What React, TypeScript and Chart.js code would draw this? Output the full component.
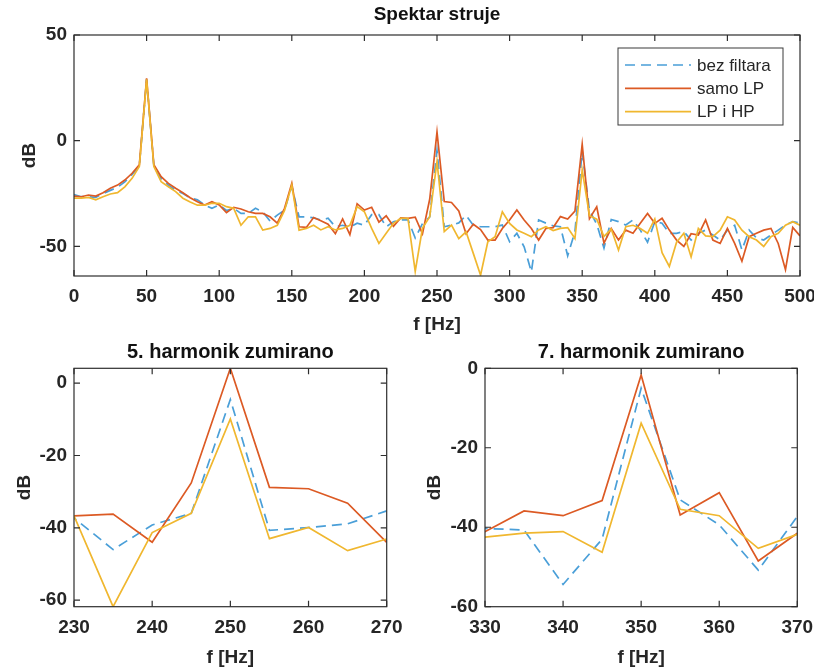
import React, { useEffect, useRef } from 'react';
import { Chart, registerables } from 'chart.js';

Chart.register(...registerables);

// ---------------- DATA ----------------
const FREQ = [
  0, 5, 10, 15, 20, 25, 30, 35, 40, 45,
  50, 55, 60, 65, 70, 75, 80, 85, 90, 95,
  100, 105, 110, 115, 120, 125, 130, 135, 140, 145,
  150, 155, 160, 165, 170, 175, 180, 185, 190, 195,
  200, 205, 210, 215, 220, 225, 230, 235, 240, 245,
  250, 255, 260, 265, 270, 275, 280, 285, 290, 295,
  300, 305, 310, 315, 320, 325, 330, 335, 340, 345,
  350, 355, 360, 365, 370, 375, 380, 385, 390, 395,
  400, 405, 410, 415, 420, 425, 430, 435, 440, 445,
  450, 455, 460, 465, 470, 475, 480, 485, 490, 495,
  500,
];

const BEZ_FILTARA = [
  -25.5, -26.5, -26.5, -26.8, -25, -23.5, -22, -19.5, -16, -12,
  29, -12, -18, -21, -23.5, -25, -27, -28, -30.4, -32,
  -30.4, -33, -32, -34.4, -34.4, -32, -33.6, -38, -35.2, -32.8,
  -21.5, -36, -36, -36.5, -37.5, -36.7, -40.7, -40, -41, -39,
  -40, -35, -35, -40.7, -38.3, -37.5, -37.3, -46, -39.2, -36,
  -4.5, -40.7, -39.9, -38.9, -35.3, -40, -40.7, -40.7, -40.7, -39.9,
  -47.8, -43.8, -50.2, -62, -37.5, -39, -40.3, -40.7, -54.4, -43,
  -5, -33.1, -39.4, -50.8, -37.3, -38.3, -39.9, -37.5, -42.3, -48,
  -38.3, -39, -43.8, -43.8, -43, -47, -43.8, -42.3, -44.6, -47,
  -42.3, -40, -51.7, -42.3, -46, -47, -44.6, -42.3, -40, -38.3,
  -39,
];

const SAMO_LP = [
  -26.2, -26.5, -25.7, -26.2, -24.6, -22.5, -21, -18.6, -15.4, -11.4,
  29.5, -11.4, -17, -20.2, -22.5, -24.6, -27, -28.9, -30.4, -28.9,
  -30.4, -34, -31.5, -32.3, -33.6, -34.4, -34.4, -36, -39, -32,
  -20.2, -40.7, -41, -36.3, -37.9, -39.5, -44, -37, -44.4, -29.8,
  -32.8, -31.5, -38.5, -35.5, -40.5, -36.5, -36.7, -36.2, -44, -27.6,
  4.1, -28.8, -29.2, -33.2, -44, -39.5, -42, -47, -47, -41.5,
  -37.5, -32.8, -37.5, -41.5, -47, -41.5, -41.1, -35.9, -37.1, -33.3,
  -1.7, -36.9, -31.3, -48.5, -41.5, -47, -42.3, -43.8, -39.1, -34.4,
  -39.1, -36.7, -42.3, -47, -50, -44, -44.6, -37.5, -47, -48.6,
  -41.5, -48.6, -57, -45.4, -43.8, -42.3, -41.5, -48.6, -61, -41,
  -45,
];

const LP_I_HP = [
  -27.2, -27.2, -26.8, -28, -26.5, -25.2, -24.6, -21.8, -17.8, -12.2,
  29, -12.2, -19.4, -21.8, -24.1, -27.2, -29, -30.5, -30.5, -29.6,
  -29.6, -31.2, -32, -40, -36, -36, -42.3, -41.5, -40, -33,
  -21, -42.3, -41.5, -40, -42.2, -40.7, -42.2, -41.5, -40, -31.2,
  -33.6, -41.5, -48.6, -43.8, -39.1, -36.7, -36.7, -61.8, -41.3, -36,
  -9.9, -43, -39.9, -46.3, -43.1, -53.3, -63.6, -47.8, -45.4, -33.6,
  -39.1, -42.2, -43.8, -45.4, -42.2, -40.7, -42.5, -41.5, -41.1, -46.3,
  -13.8, -35.5, -37.1, -45.3, -41.8, -51.7, -40.7, -40, -41.5, -43.8,
  -37, -53, -59.5, -48, -43.8, -55, -41.5, -45, -45.4, -42.3,
  -36, -37.5, -42.3, -45.4, -47, -50, -45.4, -43.8, -40, -38.3,
  -40,
];

const SERIES_LABELS = ['bez filtara', 'samo LP', 'LP i HP'];

const TITLES = ['Spektar struje', '5. harmonik zumirano', '7. harmonik zumirano'];
const X_LABEL = 'f [Hz]';
const Y_LABEL = 'dB';

const TOP_X_TICKS = [0, 50, 100, 150, 200, 250, 300, 350, 400, 450, 500];
const TOP_Y_TICKS = [-50, 0, 50];
const H5_X_TICKS = [230, 240, 250, 260, 270];
const H5_Y_TICKS = [-60, -40, -20, 0];
const H7_X_TICKS = [330, 340, 350, 360, 370];
const H7_Y_TICKS = [-60, -40, -20, 0];

const TOP_X_RANGE = [0, 500];
const TOP_Y_RANGE = [-64, 50];
const H5_X_RANGE = [230, 270];
const H5_Y_RANGE = [-61.8, 4.1];
const H7_X_RANGE = [330, 370];
const H7_Y_RANGE = [-60, 0];

// ---------------- STYLE ----------------
const FONT_FAMILY = '"Liberation Sans", Arial, Helvetica, sans-serif';
const COLORS = {
  bez: '#4a9fd8',
  lp: '#dc5a24',
  lphp: '#f0b72f',
  axis: '#2e2e2e',
  text: '#262626',
};

type PanelSpec = {
  id: string;
  left: number;
  top: number;
  width: number;
  height: number;
  title: string;
  titleSize: number;
  titlePadTop: number;
  titlePadBottom: number;
  yAxisWidth: number;
  xAxisHeight: number;
  padRight: number;
  xTitlePadBottom: number;
  yTitlePadTop: number;
  xTickPad: number;
  yTickPad: number;
  xRange: number[];
  yRange: number[];
  xTicks: number[];
  yTicks: number[];
  legend: boolean;
};

const PANELS: PanelSpec[] = [
  {
    id: 'top', left: 0, top: 0, width: 814, height: 340,
    title: TITLES[0], titleSize: 19, titlePadTop: 3, titlePadBottom: 9.2,
    yAxisWidth: 74, xAxisHeight: 64, padRight: 14,
    xTitlePadBottom: 3.6, yTitlePadTop: 18.6, xTickPad: 9, yTickPad: 7,
    xRange: TOP_X_RANGE, yRange: TOP_Y_RANGE, xTicks: TOP_X_TICKS, yTicks: TOP_Y_TICKS,
    legend: true,
  },
  {
    id: 'h5', left: 0, top: 340, width: 410, height: 331,
    title: TITLES[1], titleSize: 20, titlePadTop: 0.5, titlePadBottom: 3.8,
    yAxisWidth: 74, xAxisHeight: 64.3, padRight: 23.3,
    xTitlePadBottom: 2.1, yTitlePadTop: 13.1, xTickPad: 9.4, yTickPad: 7,
    xRange: H5_X_RANGE, yRange: H5_Y_RANGE, xTicks: H5_X_TICKS, yTicks: H5_Y_TICKS,
    legend: false,
  },
  {
    id: 'h7', left: 410, top: 340, width: 404, height: 331,
    title: TITLES[2], titleSize: 20, titlePadTop: 0.5, titlePadBottom: 3.8,
    yAxisWidth: 75, xAxisHeight: 64.3, padRight: 16.7,
    xTitlePadBottom: 2.1, yTitlePadTop: 13.1, xTickPad: 9.4, yTickPad: 7,
    xRange: H7_X_RANGE, yRange: H7_Y_RANGE, xTicks: H7_X_TICKS, yTicks: H7_Y_TICKS,
    legend: false,
  },
];

function makeDatasets() {
  const toPts = (ys: number[]) => FREQ.map((f, i) => ({ x: f, y: ys[i] }));
  const common = { borderWidth: 1.7, pointRadius: 0, pointHoverRadius: 0, tension: 0, fill: false };
  return [
    { ...common, label: SERIES_LABELS[0], data: toPts(BEZ_FILTARA), borderColor: COLORS.bez, borderDash: [10, 6], order: 3 },
    { ...common, label: SERIES_LABELS[1], data: toPts(SAMO_LP), borderColor: COLORS.lp, order: 2 },
    { ...common, label: SERIES_LABELS[2], data: toPts(LP_I_HP), borderColor: COLORS.lphp, order: 1 },
  ];
}

// Box around the axes with inward tick marks on all four sides (MATLAB style)
const matlabBox = {
  id: 'matlabBox',
  afterDatasetsDraw(chart: any) {
    const { ctx, chartArea: a, scales } = chart;
    const x = scales.x;
    const y = scales.y;
    const tl = 6;
    ctx.save();
    ctx.strokeStyle = COLORS.axis;
    ctx.lineWidth = 1.2;
    ctx.setLineDash([]);
    ctx.beginPath();
    for (const t of x.ticks) {
      const px = x.getPixelForValue(t.value);
      ctx.moveTo(px, a.bottom);
      ctx.lineTo(px, a.bottom - tl);
      ctx.moveTo(px, a.top);
      ctx.lineTo(px, a.top + tl);
    }
    for (const t of y.ticks) {
      const py = y.getPixelForValue(t.value);
      ctx.moveTo(a.left, py);
      ctx.lineTo(a.left + tl, py);
      ctx.moveTo(a.right, py);
      ctx.lineTo(a.right - tl, py);
    }
    ctx.stroke();
    ctx.strokeRect(a.left, a.top, a.right - a.left, a.bottom - a.top);
    ctx.restore();
  },
};

// Legend box in the upper right of the chart area
const boxLegend = {
  id: 'boxLegend',
  afterDatasetsDraw(chart: any) {
    const { ctx, chartArea: a } = chart;
    const w = 165;
    const h = 77;
    const right = a.right - 17;
    const top = a.top + 13;
    const left = right - w;
    ctx.save();
    ctx.fillStyle = '#ffffff';
    ctx.fillRect(left, top, w, h);
    ctx.strokeStyle = '#3a3a3a';
    ctx.lineWidth = 1;
    ctx.setLineDash([]);
    ctx.strokeRect(left, top, w, h);
    chart.data.datasets.forEach((ds: any, i: number) => {
      const yy = top + 17 + i * 23.3;
      ctx.beginPath();
      ctx.setLineDash(ds.borderDash || []);
      ctx.strokeStyle = ds.borderColor;
      ctx.lineWidth = ds.borderWidth;
      ctx.moveTo(left + 7, yy);
      ctx.lineTo(left + 73, yy);
      ctx.stroke();
      ctx.setLineDash([]);
      ctx.fillStyle = COLORS.text;
      ctx.font = `17px ${FONT_FAMILY}`;
      ctx.textBaseline = 'middle';
      ctx.textAlign = 'left';
      ctx.fillText(ds.label, left + 79, yy + 1);
    });
    ctx.restore();
  },
};

function Panel({ spec }: { spec: PanelSpec }) {
  const ref = useRef<HTMLCanvasElement | null>(null);

  useEffect(() => {
    if (!ref.current) return;
    const tickFont = { family: FONT_FAMILY, size: 19, weight: 'bold' as const };
    const chart = new Chart(ref.current, {
      type: 'line',
      data: { datasets: makeDatasets() as any },
      plugins: spec.legend ? [matlabBox, boxLegend] : [matlabBox],
      options: {
        animation: false,
        responsive: false,
        devicePixelRatio: 1,
        events: [],
        layout: { padding: { left: 0, top: 0, bottom: 0, right: spec.padRight } },
        plugins: {
          legend: { display: false },
          tooltip: { enabled: false },
          title: {
            display: true,
            text: spec.title,
            fullSize: false,
            color: '#111111',
            font: { family: FONT_FAMILY, size: spec.titleSize, weight: 'bold' },
            padding: { top: spec.titlePadTop, bottom: spec.titlePadBottom },
          },
        },
        scales: {
          x: {
            type: 'linear',
            min: spec.xRange[0],
            max: spec.xRange[1],
            afterBuildTicks: (s: any) => {
              s.ticks = spec.xTicks.map((v) => ({ value: v }));
            },
            afterFit: (s: any) => {
              s.height = spec.xAxisHeight;
              s.paddingLeft = 0;
              s.paddingRight = 0;
            },
            grid: { display: false, drawTicks: false },
            border: { display: false },
            ticks: {
              font: tickFont,
              color: COLORS.text,
              padding: spec.xTickPad,
              maxRotation: 0,
              autoSkip: false,
              callback: (v: any) => String(v),
            },
            title: {
              display: true,
              text: X_LABEL,
              color: COLORS.text,
              font: tickFont,
              padding: { top: 0, bottom: spec.xTitlePadBottom },
            },
          },
          y: {
            type: 'linear',
            min: spec.yRange[0],
            max: spec.yRange[1],
            afterBuildTicks: (s: any) => {
              s.ticks = spec.yTicks.map((v) => ({ value: v }));
            },
            afterFit: (s: any) => {
              s.width = spec.yAxisWidth;
            },
            grid: { display: false, drawTicks: false },
            border: { display: false },
            ticks: {
              font: tickFont,
              color: COLORS.text,
              padding: spec.yTickPad,
              autoSkip: false,
              callback: (v: any) => String(v),
            },
            title: {
              display: true,
              text: Y_LABEL,
              color: COLORS.text,
              font: tickFont,
              padding: { top: spec.yTitlePadTop, bottom: 0 },
            },
          },
        },
      } as any,
    });
    return () => chart.destroy();
  }, [spec]);

  return (
    <div style={{ position: 'absolute', left: spec.left, top: spec.top, width: spec.width, height: spec.height }}>
      <canvas ref={ref} width={spec.width} height={spec.height} style={{ width: spec.width, height: spec.height, display: 'block' }} />
    </div>
  );
}

export default function App() {
  return (
    <div style={{ position: 'absolute', left: 0, top: 0, width: 814, height: 671, background: '#ffffff', overflow: 'hidden' }}>
      {PANELS.map((p) => (
        <Panel key={p.id} spec={p} />
      ))}
    </div>
  );
}
